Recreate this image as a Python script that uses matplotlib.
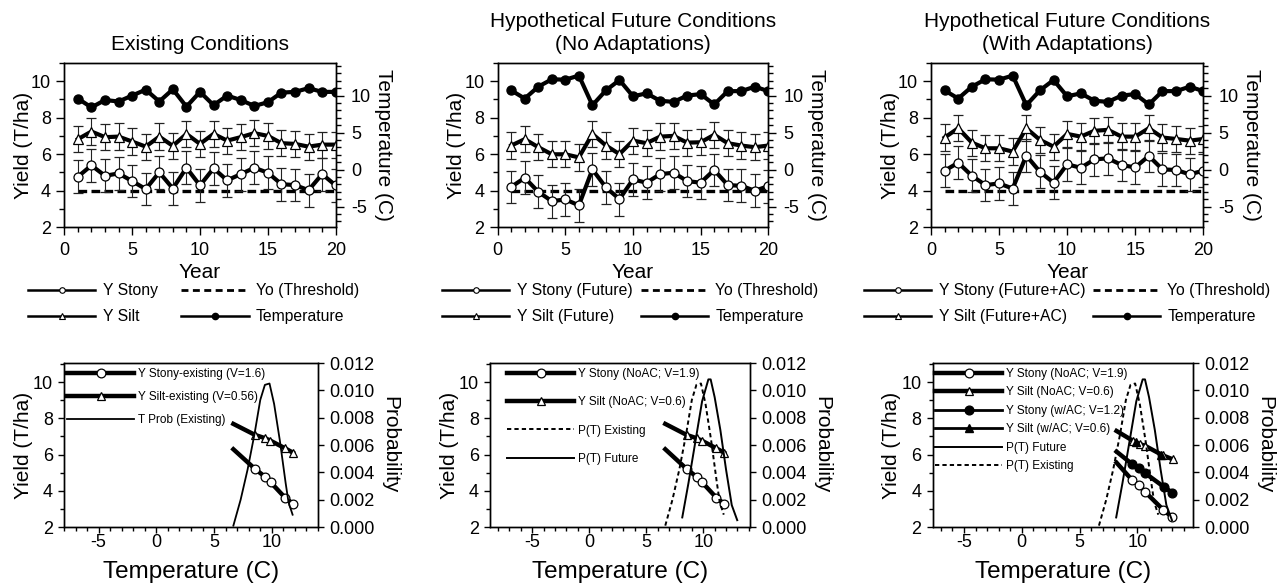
import matplotlib
matplotlib.use('Agg')
import matplotlib.pyplot as plt
from matplotlib.lines import Line2D
from matplotlib.ticker import MultipleLocator, FormatStrFormatter

plt.rcParams['font.family'] = ['Liberation Sans', 'DejaVu Sans']
plt.rcParams['axes.unicode_minus'] = False

# ---------------- data: top row (yield by year) ----------------
years = list(range(1, 21))
threshold = 4.0

stony_existing = [4.76, 5.38, 4.81, 4.94, 4.52, 4.08, 5.00, 4.11, 5.25, 4.28,
                  5.22, 4.56, 4.90, 5.25, 4.98, 4.35, 4.30, 4.02, 4.90, 4.28]
silt_existing = [6.82, 7.24, 6.93, 6.96, 6.69, 6.41, 6.96, 6.45, 7.11, 6.56,
                 7.11, 6.74, 6.93, 7.15, 7.00, 6.60, 6.56, 6.41, 6.52, 6.52]
temp_existing = [9.6, 8.4, 9.4, 9.2, 10.0, 10.8, 9.2, 10.85, 8.5, 10.5,
                 8.7, 10.0, 9.4, 8.6, 9.1, 10.4, 10.5, 11.0, 10.5, 10.5]

stony_future = [4.20, 4.70, 3.93, 3.42, 3.51, 3.19, 5.16, 4.17, 3.53, 4.61,
                4.43, 4.90, 4.98, 4.52, 4.43, 5.13, 4.30, 4.26, 3.99, 4.24]
silt_future = [6.47, 6.82, 6.38, 5.99, 5.99, 5.82, 7.11, 6.47, 6.00, 6.74,
               6.60, 6.96, 7.00, 6.63, 6.65, 7.06, 6.60, 6.47, 6.38, 6.47]
temp_future = [10.7, 9.6, 11.2, 12.2, 12.15, 12.7, 8.7, 10.7, 12.1, 9.9,
               10.3, 9.3, 9.15, 10.0, 10.2, 8.8, 10.6, 10.6, 11.2, 10.6]

stony_future_ac = [5.09, 5.53, 4.81, 4.30, 4.39, 4.11, 5.92, 5.03, 4.43, 5.44,
                   5.25, 5.71, 5.77, 5.40, 5.27, 5.90, 5.16, 5.13, 4.89, 5.09]
silt_future_ac = [6.91, 7.42, 6.63, 6.32, 6.32, 6.14, 7.42, 6.78, 6.41, 7.11,
                  6.96, 7.28, 7.33, 6.96, 6.96, 7.42, 6.91, 6.83, 6.74, 6.83]

stony_err = 0.9
silt_err = 0.72

top_titles = ['Existing Conditions',
              'Hypothetical Future Conditions\n(No Adaptations)',
              'Hypothetical Future Conditions\n(With Adaptations)']
top_labels = [['Y Stony', 'Y Silt', 'Yo (Threshold)', 'Temperature'],
              ['Y Stony (Future)', 'Y Silt (Future)', 'Yo (Threshold)', 'Temperature'],
              ['Y Stony (Future+AC)', 'Y Silt (Future+AC)', 'Yo (Threshold)', 'Temperature']]

# ---------------- data: bottom row (yield / probability vs temperature) ----------------
# existing-condition regression lines (panels 1 and 2)
stony_T = [6.67, 8.55, 9.42, 9.91, 11.16, 11.83]
stony_Y = [6.29, 5.20, 4.77, 4.46, 3.61, 3.29]
silt_T = [6.67, 8.55, 9.42, 9.86, 11.16, 11.83]
silt_Y = [7.69, 7.08, 6.90, 6.77, 6.34, 6.10]

# panel 3 regression lines
stony_noac_T = [8.19, 9.54, 10.11, 10.69, 12.21, 12.99]
stony_noac_Y = [5.55, 4.59, 4.31, 3.92, 2.96, 2.55]
silt_noac_T = [8.19, 9.63, 10.20, 10.69, 12.20, 13.07]
silt_noac_Y = [7.30, 6.75, 6.58, 6.47, 5.95, 5.73]
stony_ac_T = [8.19, 9.54, 10.11, 10.69, 12.27, 13.02]
stony_ac_Y = [6.16, 5.47, 5.23, 4.96, 4.22, 3.89]
silt_ac_T = [9.90, 12.05]
silt_ac_Y = [6.68, 5.98]

# temperature probability curves
pT_exist_T = [6.67, 7.3, 7.9, 8.5, 9.0, 9.4, 9.8, 10.2, 10.7, 11.2, 11.45, 11.8]
pT_exist_P = [0.0001, 0.0020, 0.0042, 0.0068, 0.0093, 0.0104, 0.0105, 0.0090, 0.0063, 0.0032, 0.0018, 0.0009]
pT_future_T = [8.16, 8.7, 9.3, 9.9, 10.45, 10.65, 11.0, 11.5, 12.0, 12.5, 12.98]
pT_future_P = [0.0007, 0.0032, 0.0062, 0.0092, 0.0108, 0.0108, 0.0095, 0.0071, 0.0042, 0.0016, 0.0005]

# ---------------- figure ----------------
W, H = 1282, 584
fig = plt.figure(figsize=(W / 100, H / 100), dpi=100)


def frac(left, right, top, bottom):
    return [left / W, 1 - bottom / H, (right - left) / W, (bottom - top) / H]


TICK = 13
LAB = 15


def style_axis(ax, major=6, minor=3.5):
    ax.tick_params(which='major', direction='out', length=major, width=1, labelsize=TICK)
    ax.tick_params(which='minor', direction='out', length=minor, width=1)
    for s in ax.spines.values():
        s.set_linewidth(1)


top_pos = [(64.3, 335.7), (497.7, 768.3), (931, 1203.3)]
top_data = [(stony_existing, silt_existing, temp_existing),
            (stony_future, silt_future, temp_future),
            (stony_future_ac, silt_future_ac, temp_future)]
leg_x = [28, 442, 864]
col_sp = [1.5, 0.55, 0.5]

for i in range(3):
    l, r = top_pos[i]
    ax = fig.add_axes(frac(l, r, 63, 227))
    stony, silt, temp = top_data[i]
    ax.plot([years[0], years[-1]], [threshold, threshold], color='k', lw=2.4,
            dashes=(2.6, 1.3), zorder=2)
    ax.errorbar(years, silt, yerr=silt_err, fmt='-^', color='k', lw=3, ms=6.5,
                mfc='white', mec='k', mew=0.9, ecolor='#222222', elinewidth=0.8,
                capsize=3.5, capthick=0.8, zorder=3)
    ax.errorbar(years, stony, yerr=stony_err, fmt='-o', color='k', lw=3, ms=6.5,
                mfc='white', mec='k', mew=0.9, ecolor='#222222', elinewidth=0.8,
                capsize=3.5, capthick=0.8, zorder=4)
    ax.set_xlim(0, 20)
    ax.set_ylim(2, 11)
    ax.xaxis.set_major_locator(MultipleLocator(5))
    ax.xaxis.set_minor_locator(MultipleLocator(1))
    ax.yaxis.set_major_locator(MultipleLocator(2))
    ax.yaxis.set_minor_locator(MultipleLocator(1))
    style_axis(ax)
    ax.tick_params(axis='x', pad=5)
    ax.set_xlabel('Year', fontsize=LAB, labelpad=3)
    ax.set_ylabel('Yield (T/ha)', fontsize=LAB, labelpad=-1.5)
    ax.set_title(top_titles[i], fontsize=LAB, pad=9, linespacing=1.32)

    ax2 = ax.twinx()
    ax2.plot(years, temp, '-o', color='k', lw=3, ms=6.5, mfc='k', mec='k')
    ax2.set_ylim(-7.75, 14.4)
    ax2.yaxis.set_major_locator(MultipleLocator(5))
    ax2.yaxis.set_minor_locator(MultipleLocator(1))
    style_axis(ax2)
    ax2.tick_params(axis='y', pad=5)
    ax2.set_ylabel('Temperature (C)', fontsize=LAB, rotation=270, labelpad=16)

    labels = top_labels[i]
    handles = [
        Line2D([], [], color='k', lw=1.8, marker='o', ms=4, mfc='white', mec='k', mew=0.8),
        Line2D([], [], color='k', lw=1.8, marker='^', ms=4, mfc='white', mec='k', mew=0.8),
        Line2D([], [], color='k', lw=2, dashes=(2.5, 1.6)),
        Line2D([], [], color='k', lw=1.8, marker='o', ms=4.5, mfc='k', mec='k'),
    ]
    fig.legend(handles, labels, ncol=2, loc='upper left', frameon=False,
               bbox_to_anchor=(leg_x[i] / W, 1 - 283 / H), fontsize=11.3,
               handlelength=4.3, handletextpad=0.45, columnspacing=col_sp[i],
               labelspacing=0.72, borderpad=0, borderaxespad=0)

# ---------------- bottom row ----------------
bot_pos = [(64, 318, -8, 14), (490, 750, -8.7, 14.1), (932.7, 1193, -7.7, 14.8)]
thick = dict(color='k', lw=3.2, mfc='white', mec='k', mew=0.9, ms=6.3)

axes_b = []
for i in range(3):
    l, r, x0, x1 = bot_pos[i]
    ax = fig.add_axes(frac(l, r, 363, 527))
    ax.set_xlim(x0, x1)
    ax.set_ylim(2, 11.05)
    ax.xaxis.set_major_locator(MultipleLocator(5))
    ax.xaxis.set_minor_locator(MultipleLocator(1))
    ax.yaxis.set_major_locator(MultipleLocator(2))
    ax.yaxis.set_minor_locator(MultipleLocator(1))
    style_axis(ax, major=4.5, minor=3)
    ax.tick_params(axis='x', pad=0.5)
    ax.set_xlabel('Temperature (C)', fontsize=17.5, labelpad=7)
    ax.set_ylabel('Yield (T/ha)', fontsize=LAB, labelpad=0)
    ax2 = ax.twinx()
    ax2.set_ylim(0, 0.012)
    ax2.yaxis.set_major_locator(MultipleLocator(0.002))
    ax2.yaxis.set_major_formatter(FormatStrFormatter('%.3f'))
    style_axis(ax2, major=4.5, minor=3)
    ax2.set_ylabel('Probability', fontsize=LAB, rotation=270, labelpad=18)
    axes_b.append((ax, ax2))

LEGF = 8.5
# panel 1
ax, ax2 = axes_b[0]
h1, = ax.plot(stony_T, stony_Y, '-o', markevery=list(range(1, len(stony_T))), **thick)
h2, = ax.plot(silt_T, silt_Y, '-^', markevery=list(range(1, len(silt_T))), **thick)
h3, = ax2.plot(pT_exist_T, pT_exist_P, '-', color='k', lw=1.3)
ax.legend([h1, h2, Line2D([], [], color='k', lw=1.3)],
          ['Y Stony-existing (V=1.6)', 'Y Silt-existing (V=0.56)', 'T Prob (Existing)'],
          loc='upper left', bbox_to_anchor=(67 / W, 1 - 368 / H),
          bbox_transform=fig.transFigure, frameon=False, fontsize=LEGF,
          handlelength=5.7, handletextpad=0.3, labelspacing=0.92,
          borderpad=0, borderaxespad=0)

# panel 2
ax, ax2 = axes_b[1]
h1, = ax.plot(stony_T, stony_Y, '-o', markevery=list(range(1, len(stony_T))), **thick)
h2, = ax.plot(silt_T, silt_Y, '-^', markevery=list(range(1, len(silt_T))), **thick)
h3, = ax2.plot(pT_exist_T, pT_exist_P, color='k', lw=1.4, dashes=(2.2, 1.6))
h4, = ax2.plot(pT_future_T, pT_future_P, '-', color='k', lw=1.4)
ax.legend([h1, h2, h3, h4],
          ['Y Stony (NoAC; V=1.9)', 'Y Silt (NoAC; V=0.6)', 'P(T) Existing', 'P(T) Future'],
          loc='upper left', bbox_to_anchor=(507 / W, 1 - 368 / H),
          bbox_transform=fig.transFigure, frameon=False, fontsize=LEGF,
          handlelength=5.7, handletextpad=0.3, labelspacing=1.38,
          borderpad=0, borderaxespad=0)

# panel 3
ax, ax2 = axes_b[2]
h1, = ax.plot(stony_noac_T, stony_noac_Y, '-o', markevery=list(range(1, len(stony_noac_T))), **thick)
h2, = ax.plot(silt_noac_T, silt_noac_Y, '-^', markevery=list(range(1, len(silt_noac_T))), **thick)
h3, = ax.plot(stony_ac_T, stony_ac_Y, '-o', markevery=list(range(1, len(stony_ac_T))),
              color='k', lw=3.2, mfc='k', mec='k', ms=6.3)
h4, = ax.plot(silt_ac_T, silt_ac_Y, '^', color='k', mfc='k', mec='k', ms=6.3)
h5, = ax2.plot(pT_future_T, pT_future_P, '-', color='k', lw=1.4)
h6, = ax2.plot(pT_exist_T, pT_exist_P, color='k', lw=1.4, dashes=(2.2, 1.6))
ax.legend([h1, h2,
           Line2D([], [], color='k', lw=2, marker='o', ms=6.3, mfc='k', mec='k'),
           Line2D([], [], color='k', lw=2, marker='^', ms=6.3, mfc='k', mec='k'),
           h5, h6],
          ['Y Stony (NoAC; V=1.9)', 'Y Silt (NoAC; V=0.6)', 'Y Stony (w/AC; V=1.2)',
           'Y Silt (w/AC; V=0.6)', 'P(T) Future', 'P(T) Existing'],
          loc='upper left', bbox_to_anchor=(935 / W, 1 - 368 / H),
          bbox_transform=fig.transFigure, frameon=False, fontsize=LEGF,
          handlelength=5.7, handletextpad=0.3, labelspacing=0.55,
          borderpad=0, borderaxespad=0)

fig.savefig('out.png', dpi=100)
